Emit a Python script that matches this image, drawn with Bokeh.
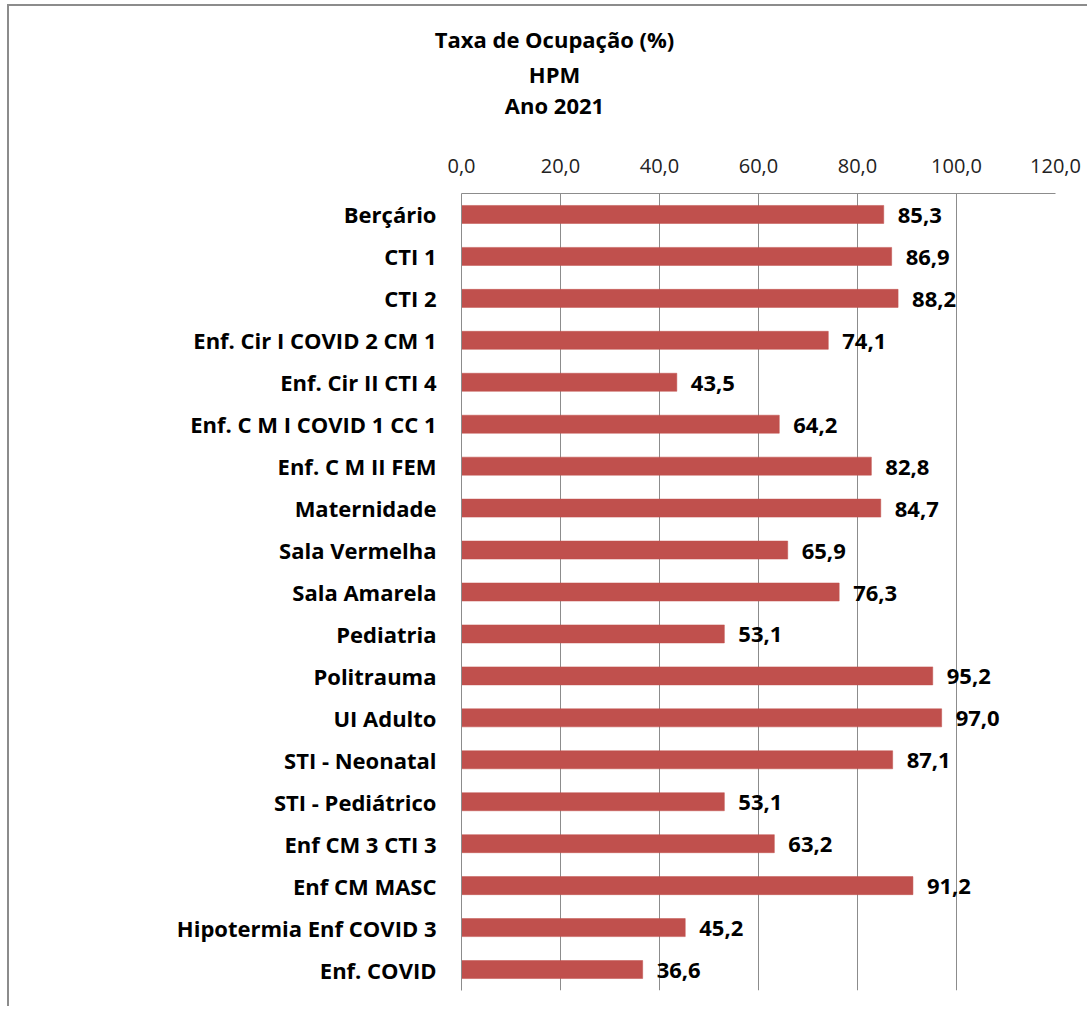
from bokeh.plotting import figure
from bokeh.models import ColumnDataSource, FactorRange, Range1d, FixedTicker, Label
from bokeh.layouts import column
from bokeh.embed import file_html
from bokeh.resources import INLINE

categories = [
    "Berçário", "CTI 1", "CTI 2", "Enf. Cir I COVID 2 CM 1", "Enf. Cir II CTI 4",
    "Enf. C M I COVID 1 CC 1", "Enf. C M II FEM", "Maternidade", "Sala Vermelha",
    "Sala Amarela", "Pediatria", "Politrauma", "UI Adulto", "STI - Neonatal",
    "STI - Pediátrico", "Enf CM 3 CTI 3", "Enf CM MASC", "Hipotermia Enf COVID 3",
    "Enf. COVID",
]
values = [85.3, 86.9, 88.2, 74.1, 43.5, 64.2, 82.8, 84.7, 65.9, 76.3, 53.1,
          95.2, 97.0, 87.1, 53.1, 63.2, 91.2, 45.2, 36.6]
tick_values = [0, 20, 40, 60, 80, 100, 120]
tick_labels = ["0,0", "20,0", "40,0", "60,0", "80,0", "100,0", "120,0"]
title_lines = ["Taxa de Ocupação (%)", "HPM", "Ano 2021"]

FONT = "Open Sans"
GRID = "#8c8c8c"
W = 1078
TH = 140

# ---- title strip (own small figure spanning the full width) ----
tf = figure(width=W, height=TH, x_range=Range1d(0, W), y_range=Range1d(TH, 0),
            output_backend="svg", toolbar_location=None,
            min_border=0, min_border_left=0, min_border_right=0,
            min_border_top=0, min_border_bottom=0)
tf.frame_align = False
tf.axis.visible = False
tf.grid.visible = False
tf.outline_line_color = None
tf.background_fill_color = "white"
tf.border_fill_color = "white"
title_x = 545
title_y = [32, 67, 98]
for txt, ty in zip(title_lines, title_y):
    tf.add_layout(Label(x=title_x, y=ty, text=txt,
                        text_align="center", text_baseline="alphabetic",
                        text_font=FONT, text_font_style="bold",
                        text_font_size="22px", text_color="black"))

# ---- main chart ----
src = ColumnDataSource(dict(
    cat=categories,
    v=values,
    lbl=[f"{v:.1f}".replace(".", ",") for v in values],
))

p = figure(
    width=W, height=1000 - TH,
    y_range=FactorRange(factors=list(reversed(categories))),
    x_range=Range1d(0, 120),
    x_axis_location="above",
    output_backend="svg", toolbar_location=None,
    min_border_left=452, min_border_right=32,
    min_border_top=187 - TH, min_border_bottom=16,
)
p.frame_align = False
p.outline_line_color = None
p.background_fill_color = "white"
p.border_fill_color = "white"

p.hbar(y="cat", right="v", left=0, height=0.43, source=src,
       fill_color="#C0504D", line_color="#C0504D", line_width=0.5)

p.text(x="v", y="cat", text="lbl", source=src, x_offset=14, y_offset=1,
       text_baseline="middle", text_align="left",
       text_font={"value": FONT}, text_font_style="bold",
       text_font_size="22px", text_color="black")

xa = p.xaxis[0]
xa.ticker = FixedTicker(ticks=tick_values)
xa.major_label_overrides = {t: l for t, l in zip(tick_values, tick_labels)}
xa.major_tick_line_color = None
xa.minor_tick_line_color = None
xa.axis_line_color = GRID
xa.major_label_text_font = FONT
xa.major_label_text_font_size = "20px"
xa.major_label_text_color = "#222222"
xa.major_label_standoff = 15

ya = p.yaxis[0]
ya.major_tick_line_color = None
ya.minor_tick_line_color = None
ya.axis_line_color = GRID
ya.major_label_text_font = FONT
ya.major_label_text_font_style = "bold"
ya.major_label_text_font_size = "22px"
ya.major_label_text_color = "black"
ya.major_label_standoff = 19

p.xgrid.grid_line_color = GRID
p.xgrid.ticker = FixedTicker(ticks=tick_values)
p.ygrid.grid_line_color = None

layout = column(tf, p, spacing=0)
layout.styles = {"margin-left": "7px", "margin-top": "4px",
                 "border-left": "2px solid #8c8c8c", "border-top": "2px solid #8c8c8c"}

open("out.html", "w").write(file_html(layout, INLINE))
